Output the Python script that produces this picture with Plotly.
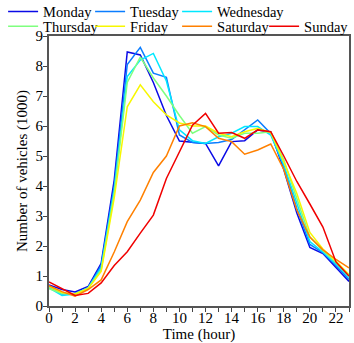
import plotly.graph_objects as go

hours = list(range(24))
x_tick_labels = [str(h) for h in range(0, 24, 2)]
y_tick_values = list(range(0, 10))

monday = [0.70, 0.55, 0.47, 0.65, 1.42, 4.20, 8.47, 8.37, 7.45, 6.35, 5.50, 5.46, 5.42, 4.67, 5.48, 5.51, 5.87, 5.80, 4.55, 3.10, 1.95, 1.75, 1.30, 0.82]
tuesday = [0.65, 0.40, 0.42, 0.60, 1.35, 4.00, 8.05, 8.62, 7.76, 7.62, 5.70, 5.45, 5.42, 5.45, 5.55, 5.87, 6.20, 5.75, 4.65, 3.25, 2.05, 1.78, 1.35, 0.88]
wednesday = [0.60, 0.35, 0.40, 0.60, 1.28, 3.85, 7.65, 8.20, 8.42, 7.50, 5.87, 5.51, 5.42, 5.64, 5.76, 5.98, 5.98, 5.70, 4.70, 3.40, 2.15, 1.80, 1.40, 0.95]
thursday = [0.58, 0.42, 0.40, 0.60, 1.20, 3.75, 7.45, 8.30, 7.60, 7.00, 6.35, 5.76, 5.98, 5.70, 5.59, 5.76, 5.76, 5.81, 4.87, 3.55, 2.30, 1.85, 1.45, 1.00]
friday = [0.65, 0.45, 0.40, 0.58, 1.15, 3.60, 6.64, 7.37, 6.81, 6.37, 6.10, 6.00, 6.00, 5.76, 5.64, 5.81, 5.92, 5.78, 4.80, 3.75, 2.45, 1.90, 1.50, 1.05]
saturday = [0.68, 0.48, 0.33, 0.55, 0.87, 1.80, 2.81, 3.53, 4.45, 5.00, 6.00, 6.11, 5.98, 5.59, 5.48, 5.06, 5.20, 5.40, 4.55, 3.20, 2.30, 1.87, 1.55, 1.27]
sunday = [0.80, 0.57, 0.35, 0.42, 0.77, 1.35, 1.81, 2.43, 3.03, 4.25, 5.15, 6.03, 6.42, 5.76, 5.78, 5.59, 5.87, 5.81, 5.00, 4.15, 3.40, 2.63, 1.47, 1.00]

series = [
    ("Monday", monday, "#0a0ae6", "legend", None),
    ("Tuesday", tuesday, "#0a7dff", "legend", None),
    ("Wednesday", wednesday, "#00e8ff", "legend", 80),
    ("Thursday", thursday, "#7fff7f", "legend2", None),
    ("Friday", friday, "#f7f700", "legend2", None),
    ("Saturday", saturday, "#ff8000", "legend2", None),
    ("Sunday", sunday, "#f00000", "legend2", 47),
]

FONT = "Liberation Serif, Times New Roman, serif"

fig = go.Figure()
for name, vals, color, leg, lw in series:
    kw = {}
    if lw is not None:
        kw["legendwidth"] = lw
    fig.add_trace(go.Scatter(x=hours, y=vals, mode="lines", name=name,
                             line=dict(color=color, width=1.5), legend=leg, **kw))

legend_common = dict(orientation="h", xref="paper", yref="paper", xanchor="left", yanchor="top",
                     entrywidth=42, entrywidthmode="pixels", bgcolor="rgba(0,0,0,0)",
                     font=dict(family=FONT, size=14.5, color="#000"), itemclick=False,
                     tracegroupgap=0)

fig.update_layout(
    width=354, height=343,
    margin=dict(l=49, r=5, t=36, b=37, autoexpand=False),
    paper_bgcolor="white", plot_bgcolor="white",
    font=dict(family=FONT, size=15, color="#000"),
    legend=dict(x=-0.153, y=1.150, **legend_common),
    legend2=dict(x=-0.153, y=1.095, **legend_common),
    xaxis=dict(range=[0, 23], tickmode="array", tickvals=list(range(0, 24, 2)), ticktext=x_tick_labels,
               ticks="outside", ticklen=4, tickcolor="#444", tickwidth=1, ticklabelstandoff=-7,
               minor=dict(tickmode="array", tickvals=list(range(1, 24, 2)), ticks="outside", ticklen=4, tickcolor="#444"),
               showline=True, linecolor="#555", linewidth=2, mirror=True, showgrid=False, zeroline=False,
               tickfont=dict(family=FONT, size=15),
               title=dict(text="Time (hour)", font=dict(family=FONT, size=15), standoff=10)),
    yaxis=dict(range=[0, 9], tickmode="array", tickvals=y_tick_values,
               ticks="outside", ticklen=4, tickcolor="#444", tickwidth=1, ticklabelstandoff=-3,
               showline=True, linecolor="#555", linewidth=2, mirror=True, showgrid=False, zeroline=False,
               tickfont=dict(family=FONT, size=15),
               title=dict(text="Number of vehicles (1000)", font=dict(family=FONT, size=15), standoff=4)),
)

fig.write_html("out.html", config={"displayModeBar": False},
               post_script="document.body.style.margin='0';document.body.style.padding='0';window.dispatchEvent(new Event('resize'));")
